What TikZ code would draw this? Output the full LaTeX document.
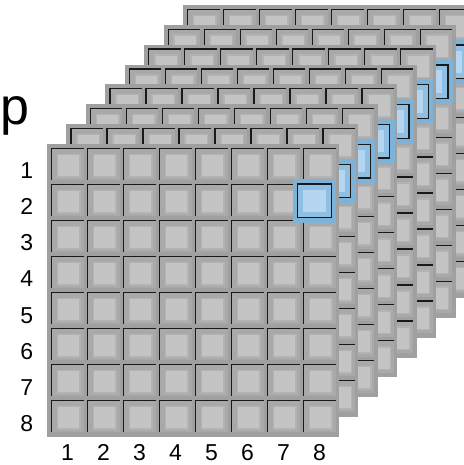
\documentclass[tikz,border=0pt]{standalone}
\usepackage{fontspec}
\setmainfont{Liberation Sans}
\usepackage{tikz}
\usetikzlibrary{positioning}

\definecolor{sheetbg}{HTML}{A0A0A0}
\definecolor{cellbg}{HTML}{A9A9A9}
\definecolor{cellring}{HTML}{B3B3B3}
\definecolor{celltop}{HTML}{C4C4C4}
\definecolor{hlout}{HTML}{7DB2D9}
\definecolor{hlring}{HTML}{8FC0E4}
\definecolor{hlin}{HTML}{B5D5F1}

\begin{document}
\begin{tikzpicture}[
  x=1pt, y=-1pt,
  sheet/.style={fill=sheetbg},
  cellline/.style={draw=black!90, line width=1.3pt},
  inner/.style={fill=celltop, draw=cellring, line width=1.5pt},
  hlframe/.style={fill=hlring, draw=black!90, line width=1.3pt},
  numlbl/.style={font=\fontsize{23}{23}\selectfont, inner sep=0pt, anchor=base},
  biglbl/.style={font=\fontsize{52}{52}\selectfont, inner sep=0pt}
]
\useasboundingbox (0,0) rectangle (463,465);

% stack of 8x8 grids, back to front
\foreach \k in {7,6,...,0}{
  \pgfmathsetmacro{\ox}{47+19.45*\k}
  \pgfmathsetmacro{\oy}{144-19.85*\k}
  \begin{scope}[shift={(\ox,\oy)}]
    \fill[sheet] (0,0) rectangle (292,293);
    \foreach \i in {0,...,7}{
      \foreach \j in {0,...,7}{
        \begin{scope}[shift={(4.5+36*\i,4.3+36*\j)}]
          \fill[cellbg] (0,0) rectangle (32,32);
          \filldraw[inner] (6,6) rectangle (28.5,28.5);
          \draw[cellline] (0,32) -- (0,0) -- (32,0);
        \end{scope}
      }
    }
    % highlighted cell: row 2, column 8
    \begin{scope}[shift={(267.5,56.8)}]
      \fill[hlout] (-21.7,-21.7) rectangle (21.7,21.7);
      \filldraw[hlframe] (-16.8,-16.8) rectangle (16.8,16.8);
      \fill[hlin] (-11.2,-11.2) rectangle (11.2,11.2);
    \end{scope}
  \end{scope}
}

\node[biglbl] (p) at (15,116) {p};
\foreach \n in {1,...,8}{
  \node[numlbl] (row\n) at (26.7,142+36.2*\n) {\n};
  \node[numlbl] (col\n) at (31.5+36*\n,460.5) {\n};
}

\end{tikzpicture}
\end{document}
